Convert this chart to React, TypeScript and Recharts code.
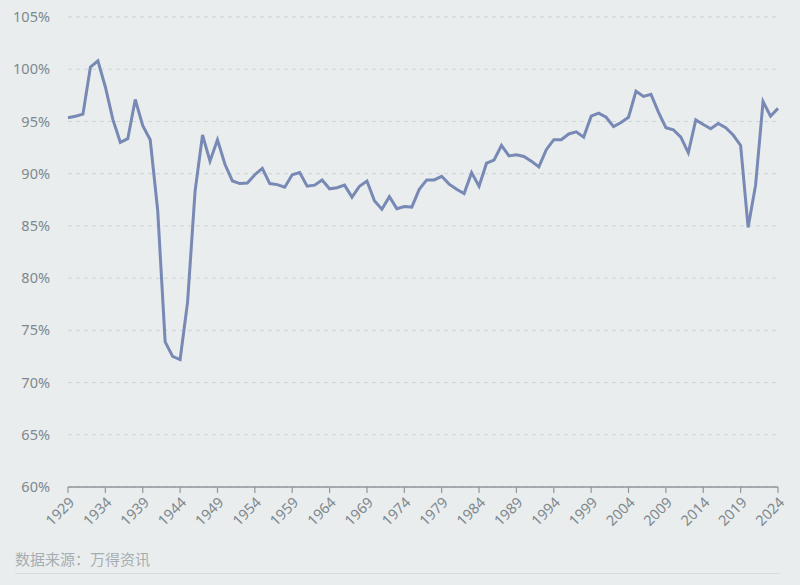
import React from "react";
import { LineChart, Line, XAxis, YAxis, CartesianGrid } from "recharts";

const years: number[] = [];
for (let y = 1929; y <= 2024; y++) years.push(y);

const values: number[] = [
  95.35, 95.5, 95.7, 100.2, 100.8, 98.3, 95.2, 93.0, 93.35, 97.1,
  94.6, 93.25, 86.5, 73.9, 72.5, 72.2, 77.7, 88.3, 93.7, 91.2,
  93.25, 90.9, 89.3, 89.05, 89.1, 89.9, 90.5, 89.05, 88.95, 88.7,
  89.9, 90.1, 88.8, 88.9, 89.4, 88.55, 88.65, 88.9, 87.75, 88.8,
  89.3, 87.4, 86.6, 87.8, 86.65, 86.85, 86.8, 88.5, 89.4, 89.4,
  89.75, 89.0, 88.5, 88.1, 90.1, 88.8, 91.0, 91.3, 92.7, 91.7,
  91.8, 91.65, 91.2, 90.65, 92.3, 93.25, 93.25, 93.8, 94.0, 93.5,
  95.5, 95.8, 95.4, 94.5, 94.9, 95.4, 97.9, 97.4, 97.6, 95.9,
  94.4, 94.2, 93.5, 92.0, 95.15, 94.7, 94.3, 94.8, 94.4, 93.7,
  92.7, 84.85, 88.9, 96.9, 95.5, 96.25,
];

const xTicks: number[] = [1929, 1934, 1939, 1944, 1949, 1954, 1959, 1964, 1969, 1974, 1979, 1984, 1989, 1994, 1999, 2004, 2009, 2014, 2019, 2024];
const yTicks: number[] = [60, 65, 70, 75, 80, 85, 90, 95, 100, 105];
const sourceText = "数据来源：万得资讯";

const data = years.map((year, i) => ({ year, value: values[i] }));

const FONT = '"Noto Sans", "Noto Sans CJK SC", sans-serif';

export default function App() {
  return (
    <div
      style={{
        position: "absolute",
        left: 0,
        top: 0,
        width: 800,
        height: 585,
        background: "#e9eded",
        fontFamily: FONT,
        overflow: "hidden",
      }}
    >
      <LineChart
        width={800}
        height={585}
        data={data}
        margin={{ top: 17, right: 22, left: 0, bottom: 38 }}
      >
        <CartesianGrid
          horizontal={true}
          vertical={false}
          stroke="#cdd3d6"
          strokeDasharray="4 4"
        />
        <XAxis
          dataKey="year"
          type="number"
          domain={[1929, 2024]}
          ticks={xTicks}
          interval={0}
          height={60}
          angle={-45}
          textAnchor="end"
          tickSize={6}
          tickMargin={3}
          axisLine={{ stroke: "#8f969a", strokeWidth: 1.5 }}
          tickLine={{ stroke: "#8f969a", strokeWidth: 1.2 }}
          tick={{ fill: "#80888d", fontSize: 14.5, fontFamily: FONT }}
        />
        <YAxis
          type="number"
          domain={[60, 105]}
          ticks={yTicks}
          interval={0}
          width={68}
          axisLine={false}
          tickLine={false}
          tickMargin={12}
          tickFormatter={(v: number) => `${v}%`}
          tick={{ fill: "#80888d", fontSize: 14.5, fontFamily: FONT }}
        />
        <Line
          type="linear"
          dataKey="value"
          stroke="#7789b4"
          strokeWidth={3}
          dot={false}
          isAnimationActive={false}
        />
      </LineChart>
      <div
        style={{
          position: "absolute",
          left: 15,
          top: 548,
          fontSize: 15,
          color: "#a7aeb1",
          fontFamily: FONT,
          whiteSpace: "nowrap",
        }}
      >
        {sourceText}
      </div>
      <div
        style={{
          position: "absolute",
          left: 15,
          top: 573,
          width: 765,
          height: 1,
          background: "#d6dbdc",
        }}
      />
    </div>
  );
}
